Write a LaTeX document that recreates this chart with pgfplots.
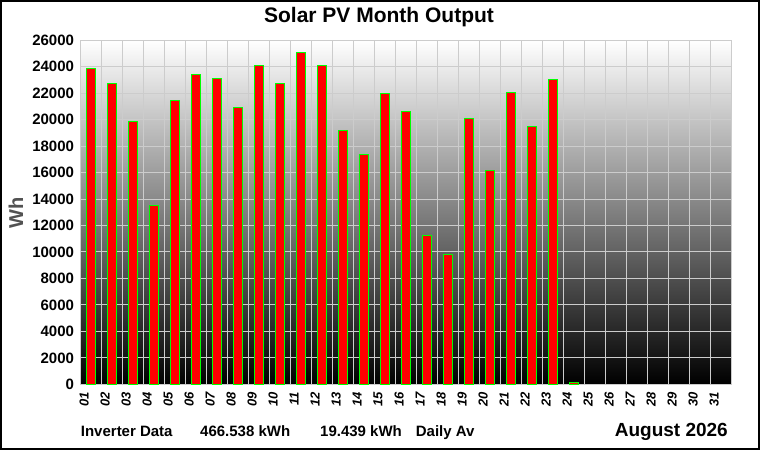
\documentclass[border=0pt]{standalone}
\usepackage{fontspec}
\setmainfont{Liberation Sans}
\usepackage{pgfplots}
\pgfplotsset{compat=1.18}
\begin{document}
\begin{tikzpicture}[x=1pt,y=1pt]
\useasboundingbox (0,0) rectangle (760,450);
\fill[white] (0,0) rectangle (760,450);
\begin{axis}[
  at={(80.7pt,65.7pt)}, anchor=south west,
  width=651pt, height=344pt, scale only axis,
  xmin=0.5, xmax=31.5, ymin=0, ymax=26000,
  axis background/.style={top color=white, bottom color=black},
  axis line style={draw=gray!40, line width=1pt},
  ybar, bar width=9pt,
  scaled y ticks=false,
  ytick={0,2000,...,26000},
  ymajorgrids,
  xtick={0.66,1.66,...,30.66},
  xticklabels={01,02,03,04,05,06,07,08,09,10,11,12,13,14,15,16,17,18,19,20,21,22,23,24,25,26,27,28,29,30,31},
  minor xtick={1.5,2.5,...,30.5}, xminorgrids,
  grid style={gray!40, line width=1pt},
  minor grid style={gray!40, line width=1pt},
  major tick length=0pt, minor tick length=0pt,
  /pgf/number format/assume math mode=true,
  /pgf/number format/1000 sep={},
  yticklabel style={font=\bfseries\fontsize{15}{15}\selectfont, inner sep=0pt, xshift=-6.5pt, anchor=east},
  xticklabel style={font=\bfseries\itshape\fontsize{13}{13}\selectfont, inner sep=0pt, yshift=-7.5pt, rotate=90, anchor=east},
]
\addplot[fill=red, draw=green, line width=1pt] coordinates {
(1,23880) (2,22700) (3,19900) (4,13500) (5,21450) (6,23400) (7,23150) (8,20950)
(9,24100) (10,22750) (11,25100) (12,24100) (13,19200) (14,17400) (15,22000) (16,20650)
(17,11250) (18,9800) (19,20100) (20,16150) (21,22050) (22,19450) (23,23050) (24,100)
};
\end{axis}
\node[anchor=base, font=\bfseries\fontsize{21}{21}\selectfont, inner sep=0pt] at (379,427) {Solar PV Month Output};
\node[rotate=90, font=\bfseries\fontsize{20}{20}\selectfont, text=black!68, inner sep=0pt] at (16,237) {Wh};
\node[anchor=base west, font=\bfseries\fontsize{15}{15}\selectfont, inner sep=0pt] at (80.7,13.5) {Inverter Data};
\node[anchor=base west, font=\bfseries\fontsize{15}{15}\selectfont, inner sep=0pt] at (200,13.5) {466.538 kWh};
\node[anchor=base west, font=\bfseries\fontsize{15}{15}\selectfont, inner sep=0pt] at (320,13.5) {19.439 kWh};
\node[anchor=base west, font=\bfseries\fontsize{15}{15}\selectfont, inner sep=0pt] at (415.7,13.5) {Daily Av};
\node[anchor=base east, font=\bfseries\fontsize{19}{19}\selectfont, inner sep=0pt] at (728,13.5) {August 2026};
\draw[black, line width=2pt] (1,1) rectangle (759,449);
\end{tikzpicture}
\end{document}
